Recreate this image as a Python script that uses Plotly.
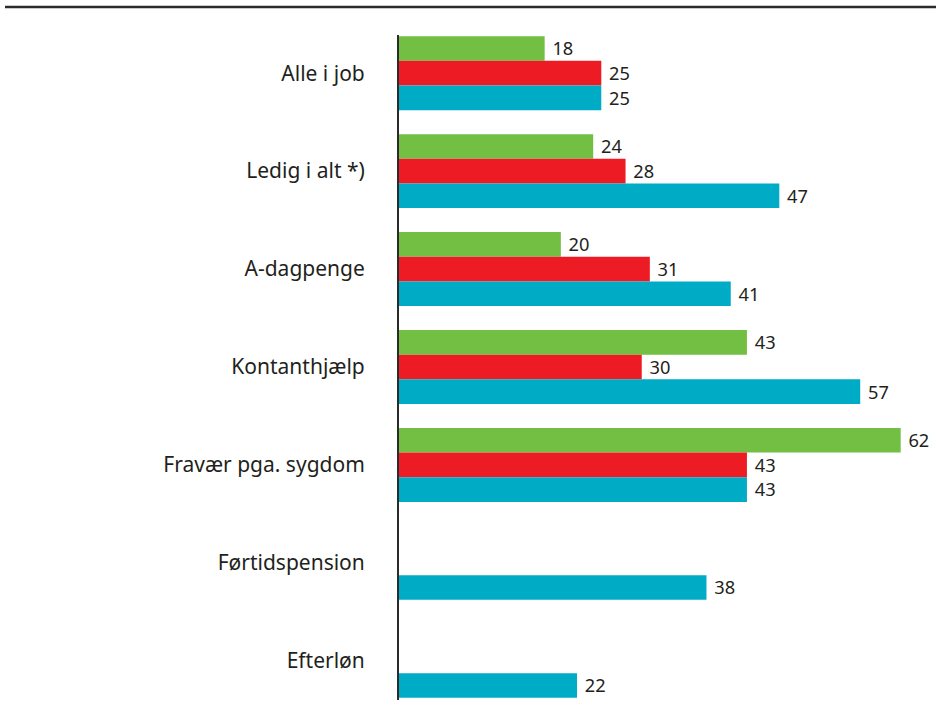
import plotly.graph_objects as go

categories = ["Alle i job", "Ledig i alt *)", "A-dagpenge", "Kontanthjælp",
              "Fravær pga. sygdom", "Førtidspension", "Efterløn"]
green_vals = [18, 24, 20, 43, 62, None, None]
red_vals = [25, 28, 31, 30, 43, None, None]
teal_vals = [25, 47, 41, 57, 43, 38, 22]

series = [
    ("green", green_vals, "#72bf44"),
    ("red", red_vals, "#ed1c24"),
    ("teal", teal_vals, "#00abc6"),
]

FONT = "Noto Sans, Open Sans, sans-serif"

fig = go.Figure()
for name, vals, col in series:
    fig.add_trace(go.Bar(
        y=categories, x=vals, orientation="h", name=name,
        marker=dict(color=col, line=dict(width=0)),
        text=[("" if v is None else "\u00a0" + str(v)) for v in vals],
        textposition="outside", cliponaxis=False,
        textfont=dict(family=FONT, size=20, color="#231f20"),
    ))

fig.update_layout(
    width=936, height=720,
    barmode="group", bargap=0.245, bargroupgap=0,
    showlegend=False,
    plot_bgcolor="white", paper_bgcolor="white",
    margin=dict(l=399, r=7, t=35, b=20, pad=0),
    font=dict(family=FONT, color="#231f20"),
    xaxis=dict(range=[0, 65.5], visible=False, showgrid=False, zeroline=False),
    yaxis=dict(range=[6.4, -0.39], showgrid=False, zeroline=False,
               showline=True, linecolor="#2b2b2b", linewidth=2,
               ticks="", ticklabelstandoff=28,
               tickfont=dict(size=21, color="#231f20")),
    shapes=[dict(type="line", xref="paper", yref="paper",
                 x0=(5 - 399) / 530, x1=(936 - 399) / 530,
                 y0=(700 - 7) / 665, y1=(700 - 7) / 665,
                 line=dict(color="#2b2b2b", width=2.5))],
)

fig.write_html(
    "out.html",
    config={"displayModeBar": False},
    post_script="document.body.style.margin='0';document.body.style.overflow='hidden';",
)
